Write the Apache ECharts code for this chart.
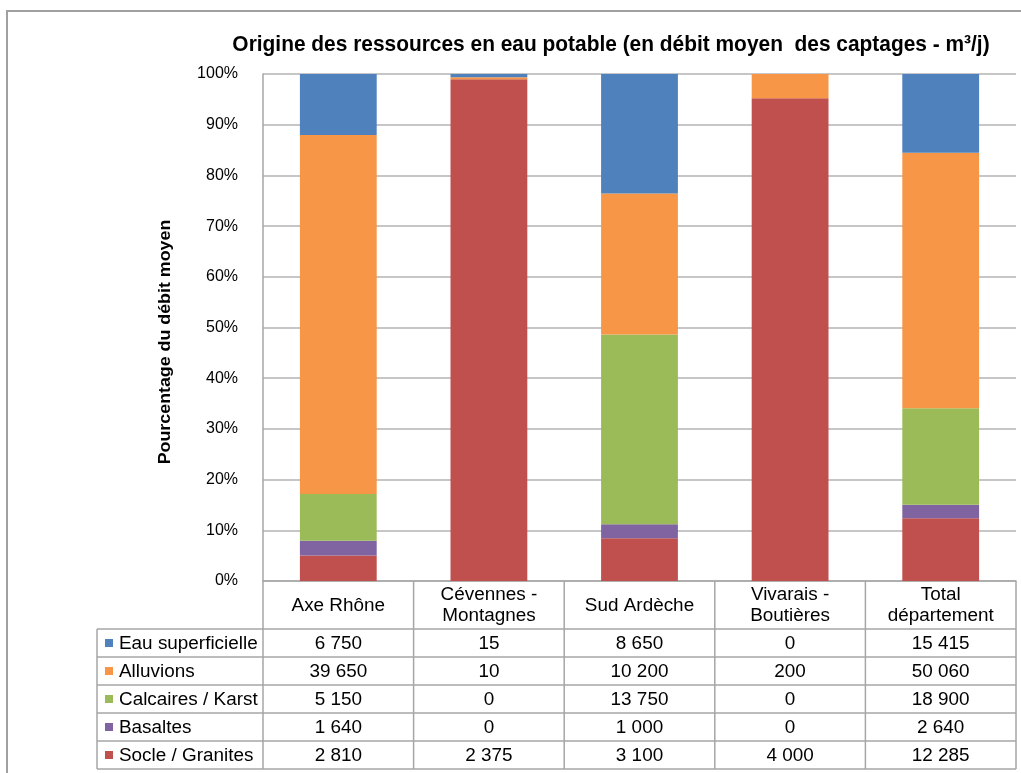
<!DOCTYPE html>
<html><head><meta charset="utf-8">
<script src="https://cdn.jsdelivr.net/npm/echarts@6/dist/echarts.min.js"></script>
<style>html,body{margin:0;padding:0;background:#fff}#c{width:1021px;height:773px}</style>
</head><body><div id="c"></div>
<script>
const title = 'Origine des ressources en eau potable (en débit moyen  des captages - m³/j)';
const yAxisName = 'Pourcentage du débit moyen';
const categories = ['Axe Rhône', 'Cévennes -\nMontagnes', 'Sud Ardèche', 'Vivarais -\nBoutières', 'Total\ndépartement'];
const seriesNames = ['Eau superficielle', 'Alluvions', 'Calcaires / Karst', 'Basaltes', 'Socle / Granites'];
const eauSuperficielle = [6750, 15, 8650, 0, 15415];
const alluvions = [39650, 10, 10200, 200, 50060];
const calcairesKarst = [5150, 0, 13750, 0, 18900];
const basaltes = [1640, 0, 1000, 0, 2640];
const socleGranites = [2810, 2375, 3100, 4000, 12285];
const colors = ['#4F81BD', '#F79646', '#9BBB59', '#8064A2', '#C0504D'];

const rows = [eauSuperficielle, alluvions, calcairesKarst, basaltes, socleGranites];
const totals = categories.map((_, i) => rows.reduce((s, r) => s + r[i], 0));
const pct = r => r.map((v, i) => v / totals[i] * 100);
const fmt = v => String(v).replace(/\B(?=(\d{3})+(?!\d))/g, ' ');

const FONT = '"Liberation Sans", Arial, sans-serif';
const chart = echarts.init(document.getElementById('c'));
const gridL = 263, gridR = 1016, gridT = 74, gridB = 581;
const stackOrder = [4, 3, 2, 1, 0];
chart.setOption({
  animation: false,
  grid: {left: gridL, right: 1021 - gridR, top: gridT, bottom: 773 - gridB},
  xAxis: {type: 'category', data: categories, axisLabel: {show: false}, axisTick: {show: false},
    axisLine: {lineStyle: {color: '#a6a6a6', width: 1.5}}},
  yAxis: {type: 'value', min: 0, max: 100, interval: 10,
    axisLabel: {formatter: '{value}%', fontFamily: FONT, fontSize: 16, color: '#000', margin: 25},
    axisLine: {show: true, lineStyle: {color: '#a6a6a6', width: 1.5}},
    splitLine: {lineStyle: {color: '#b3b3b3', width: 1.5}}},
  series: stackOrder.map(k => ({
    name: seriesNames[k], type: 'bar', stack: 'a', barWidth: '51%',
    itemStyle: {color: colors[k]}, data: pct(rows[k])
  }))
});

const g = [];
g.push({type: 'text', x: 611, y: 45, scaleX: 0.95, style: {text: title, align: 'center', verticalAlign: 'middle',
  font: 'bold 22px ' + FONT, fill: '#000'}, silent: true});
g.push({type: 'text', x: 165, y: 342, rotation: Math.PI / 2, scaleX: 1.08, style: {text: yAxisName, align: 'center', verticalAlign: 'middle',
  font: 'bold 16.5px ' + FONT, fill: '#000'}, silent: true});
const lc = '#a6a6a6';
const colW = (gridR - gridL) / categories.length;
const hdrBot = 629, rowH = 28, tblL = 97;
const line = (x1, y1, x2, y2) => ({type: 'line', shape: {x1, y1, x2, y2}, style: {stroke: lc, lineWidth: 1.5}, silent: true});
for (let k = 0; k <= categories.length; k++) {
  const x = gridL + k * colW;
  g.push(line(x, gridB, x, hdrBot + rowH * 5));
}
g.push(line(tblL, hdrBot, tblL, hdrBot + rowH * 5));
for (let r = 0; r <= 5; r++) g.push(line(tblL, hdrBot + r * rowH, gridR, hdrBot + r * rowH));
const TF = '17.5px ' + FONT, SX = 1.08;
categories.forEach((c, i) => {
  const cx = chart.convertToPixel({xAxisIndex: 0}, i);
  g.push({type: 'text', x: cx, y: (gridB + hdrBot) / 2 + 1, scaleX: SX, style: {text: c, align: 'center', verticalAlign: 'middle',
    font: TF, fill: '#000', lineHeight: 21}, silent: true});
  rows.forEach((row, r) => {
    g.push({type: 'text', x: cx, y: hdrBot + r * rowH + rowH / 2 + 1, scaleX: SX, style: {text: fmt(row[i]), align: 'center', verticalAlign: 'middle',
      font: TF, fill: '#000'}, silent: true});
  });
});
seriesNames.forEach((n, r) => {
  const cy = hdrBot + r * rowH + rowH / 2;
  g.push({type: 'rect', shape: {x: 105, y: cy - 4, width: 8, height: 8}, style: {fill: colors[r]}, silent: true});
  g.push({type: 'text', x: 119, y: cy + 1, scaleX: SX, style: {text: n, align: 'left', verticalAlign: 'middle', font: TF, fill: '#000'}, silent: true});
});
g.push({type: 'rect', shape: {x: 7, y: 11, width: 1040, height: 800}, style: {fill: 'none', stroke: '#a0a0a0', lineWidth: 2}, silent: true});
chart.setOption({graphic: g});
</script></body></html>
